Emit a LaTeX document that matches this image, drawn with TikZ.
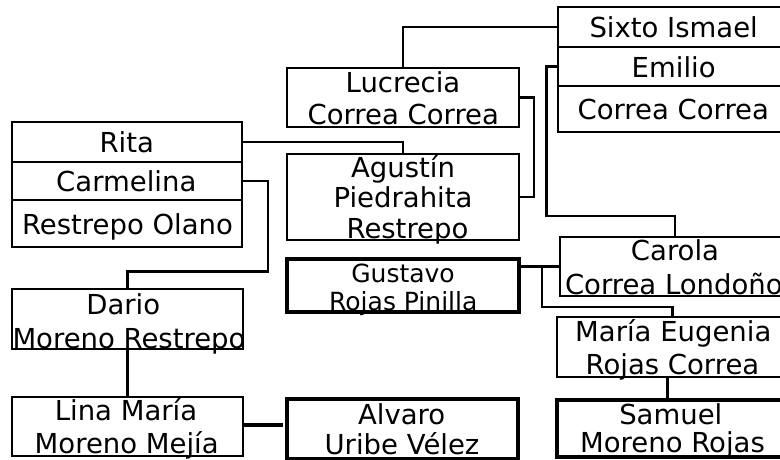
\documentclass[tikz,border=0pt]{standalone}
\usepackage{fontspec}
\setmainfont{DejaVu Sans}
\tikzset{
  box/.style={draw=black, line width=2.2pt, inner sep=0pt, outer sep=0pt, rectangle},
  heavybox/.style={box, line width=3.3pt},
  txt/.style={inner sep=0pt, outer sep=0pt, anchor=base, font=\fontsize{27.5}{33}\selectfont},
  smalltxt/.style={txt, font=\fontsize{25}{30}\selectfont},
  link/.style={draw=black, line width=2.2pt},
  heavylink/.style={draw=black, line width=3.2pt},
}
\begin{document}
\begin{tikzpicture}[x=1pt,y=-1pt]
\useasboundingbox (0,0) rectangle (780,460);
\clip (0,0) rectangle (780,460);
% boxes
\node[box, minimum width=230, minimum height=40] (sixto) at (673,27) {};
\node[box, minimum width=230, minimum height=39] (emilio) at (673,66.5) {};
\node[box, minimum width=230, minimum height=46] (correa) at (673,109) {};
\node[box, minimum width=232, minimum height=59] (lucrecia) at (403,97.5) {};
\node[box, minimum width=232, minimum height=86] (agustin) at (403,197) {};
\node[box, minimum width=230, minimum height=40] (rita) at (127,142) {};
\node[box, minimum width=230, minimum height=38] (carmelina) at (127,181) {};
\node[box, minimum width=230, minimum height=47] (restrepo) at (127,223.5) {};
\node[box, minimum width=231, minimum height=60] (dario) at (127.5,319) {};
\node[box, minimum width=231, minimum height=59] (lina) at (127.5,426.5) {};
\node[heavybox, minimum width=232, minimum height=53] (gustavo) at (403,285.5) {};
\node[heavybox, line width=3.6pt, minimum width=231, minimum height=60] (alvaro) at (402.5,429) {};
\node[box, minimum width=230, minimum height=59] (carola) at (675,266.5) {};
\node[box, minimum width=233, minimum height=60] (maria) at (673.5,347) {};
\node[heavybox, minimum width=233, minimum height=57] (samuel) at (673.5,428.5) {};
% texts
\node[txt] (t1) at (673.7,37.7) {Sixto Ismael};
\node[txt] (t2) at (673.7,77.7) {Emilio};
\node[txt] (t3) at (673.3,119.3) {Correa Correa};
\node[txt] (t4) at (403,92.5) {Lucrecia};
\node[txt] (t5) at (403.3,124.5) {Correa Correa};
\node[txt] (t6) at (403,177) {Agustín};
\node[txt] (t7) at (403,207.5) {Piedrahita};
\node[txt] (t8) at (407.5,238.5) {Restrepo};
\node[txt] (t9) at (126.7,152.3) {Rita};
\node[txt] (t10) at (126.3,191.7) {Carmelina};
\node[txt] (t11) at (127.5,234.5) {Restrepo Olano};
\node[txt] (t12) at (123.3,314) {Dario};
\node[txt] (t13) at (129,348) {Moreno Restrepo};
\node[txt] (t14) at (126,420) {Lina María};
\node[txt] (t15) at (126.7,453) {Moreno Mejía};
\node[smalltxt] (t16) at (403,282) {Gustavo};
\node[smalltxt] (t17) at (403.3,310.5) {Rojas Pinilla};
\node[txt] (t18) at (675,260.5) {Carola};
\node[txt, anchor=base west] (t19) at (565,294.5) {Correa Londoño};
\node[txt] (t20) at (673.3,341.5) {María Eugenia};
\node[txt] (t21) at (672.5,374.5) {Rojas Correa};
\node[txt] (t22) at (670.8,424) {Samuel};
\node[txt] (t23) at (672.5,452.5) {Moreno Rojas};
\node[txt] (t24) at (401.7,424) {Alvaro};
\node[txt] (t25) at (402,454) {Uribe Vélez};
% connectors
\draw[link] (sixto.west) -| (lucrecia.north);
\draw[link] (lucrecia.east) -- ++(15,0) |- (agustin.east);
\draw[link] (emilio.west) -- ++(-11.5,0) |- ([yshift=21pt]carola.north) -- (carola.north);
\draw[link] (rita.east) -| (agustin.north);
\draw[link] (carmelina.east) -- ++(26,0) |- ([yshift=17.5pt]dario.north) -- (dario.north);
\draw[heavylink] (dario.south) -- (lina.north);
\draw[heavylink, shorten >=4pt] ([yshift=1.5pt]lina.east) -- ([yshift=1.5pt]lina.east -| alvaro.west);
\draw[line width=2.8pt] (gustavo.east |- carola.west) -- (carola.west);
\coordinate (br) at (541.7,266.5);
\draw[link] (br) |- ([yshift=10pt,xshift=-1pt]maria.north) -- ([xshift=-1pt]maria.north);
\draw[heavylink] ([xshift=-6pt]maria.south) -- ([xshift=-6pt]samuel.north);
\end{tikzpicture}
\end{document}
